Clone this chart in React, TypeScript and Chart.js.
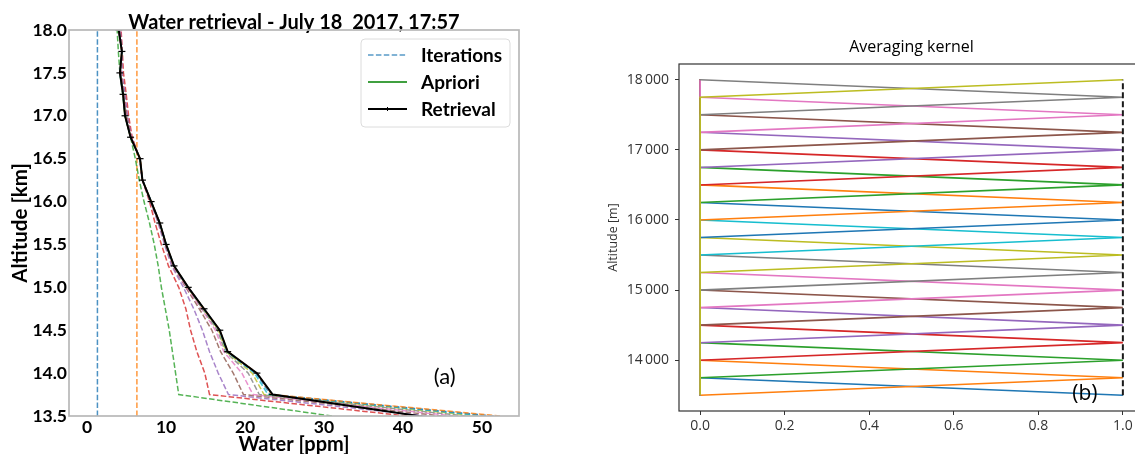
import React, { useEffect, useRef } from "react";
import { Chart, registerables } from "chart.js";

Chart.register(...registerables);

// ---------- Left panel data: water retrieval ----------
const altitudesKm = [13.5, 13.75, 14.0, 14.25, 14.5, 14.75, 15.0, 15.25, 15.5, 15.75, 16.0, 16.25, 16.5, 16.75, 17.0, 17.25, 17.5, 17.75, 18.0];

const iteration0 = [1.3, 1.3, 1.3, 1.3, 1.3, 1.3, 1.3, 1.3, 1.3, 1.3, 1.3, 1.3, 1.3, 1.3, 1.3, 1.3, 1.3, 1.3, 1.3];
const iteration1 = [6.3, 6.3, 6.3, 6.3, 6.3, 6.3, 6.3, 6.3, 6.3, 6.3, 6.3, 6.3, 6.3, 6.3, 6.3, 6.3, 6.3, 6.3, 6.3];
const iteration2 = [31.0, 11.6, 11.2, 10.8, 10.4, 9.9, 9.4, 9.0, 8.5, 7.9, 7.2, 6.6, 6.1, 5.5, 4.8, 4.5, 4.15, 3.95, 3.8];
const iteration3 = [40.5, 15.5, 14.9, 13.9, 13.1, 12.5, 11.6, 10.3, 9.4, 8.6, 7.9, 7.0, 6.65, 5.7, 5.25, 4.95, 4.6, 4.45, 4.3];
const iteration4 = [43.0, 17.9, 16.6, 15.5, 14.6, 13.5, 12.2, 10.7, 9.8, 9.0, 8.0, 7.0, 6.65, 5.6, 5.1, 4.8, 4.4, 4.45, 4.2];
const iteration5 = [45.0, 19.8, 18.5, 16.9, 15.8, 14.2, 12.5, 10.85, 9.9, 9.1, 8.05, 7.0, 6.7, 5.55, 5.0, 4.7, 4.3, 4.4, 4.1];
const iteration6 = [46.5, 21.0, 19.6, 17.3, 16.25, 14.5, 12.6, 10.9, 9.95, 9.15, 8.1, 7.0, 6.7, 5.55, 4.9, 4.65, 4.2, 4.4, 4.05];
const iteration7 = [48.0, 21.8, 20.4, 17.5, 16.5, 14.6, 12.7, 10.95, 10.0, 9.2, 8.1, 7.0, 6.7, 5.5, 4.85, 4.6, 4.2, 4.4, 4.0];
const iteration8 = [49.5, 22.4, 20.9, 17.6, 16.65, 14.7, 12.75, 11.0, 10.0, 9.2, 8.1, 7.0, 6.7, 5.5, 4.8, 4.6, 4.15, 4.4, 4.0];
const iteration9 = [50.5, 22.9, 21.2, 17.7, 16.75, 14.75, 12.8, 11.0, 10.0, 9.2, 8.1, 7.0, 6.7, 5.5, 4.8, 4.55, 4.15, 4.4, 4.0];
const iteration10 = [51.5, 23.2, 21.4, 17.75, 16.8, 14.8, 12.8, 11.0, 10.0, 9.2, 8.1, 7.0, 6.7, 5.5, 4.8, 4.55, 4.15, 4.4, 4.0];
const iteration11 = [52.3, 23.4, 21.5, 17.8, 16.8, 14.8, 12.8, 11.0, 10.0, 9.2, 8.1, 7.0, 6.7, 5.5, 4.8, 4.55, 4.15, 4.4, 4.0];
const iterations = [iteration0, iteration1, iteration2, iteration3, iteration4, iteration5, iteration6, iteration7, iteration8, iteration9, iteration10, iteration11];

const retrieval = [42.0, 23.5, 21.5, 17.8, 16.8, 14.8, 12.8, 11.0, 10.0, 9.2, 8.1, 7.0, 6.7, 5.5, 4.8, 4.55, 4.15, 4.4, 4.0];

const waterXTicks = [0, 10, 20, 30, 40, 50];
const waterYTicks = [13.5, 14.0, 14.5, 15.0, 15.5, 16.0, 16.5, 17.0, 17.5, 18.0];
const waterXMin = -2.3;
const waterXMax = 54.7;

const legendLabels = ["Iterations", "Apriori", "Retrieval"];

// ---------- Right panel data: averaging kernel ----------
const altitudesM = [13500, 13750, 14000, 14250, 14500, 14750, 15000, 15250, 15500, 15750, 16000, 16250, 16500, 16750, 17000, 17250, 17500, 17750, 18000];
const kernelDiagonal = [1, 1, 1, 1, 1, 1, 1, 1, 1, 1, 1, 1, 1, 1, 1, 1, 1, 1, 1];
const kernelOffDiagonal = 0;
const kernelRowSum = [1, 1, 1, 1, 1, 1, 1, 1, 1, 1, 1, 1, 1, 1, 1, 1, 1, 1, 1];
const kernelXTicks = [0, 0.2, 0.4, 0.6, 0.8, 1.0];
const kernelXTickLabels = ["0.0", "0.2", "0.4", "0.6", "0.8", "1.0"];
const kernelYTicks = [14000, 15000, 16000, 17000, 18000];
const kernelYTickLabels = ["14\u2009000", "15\u2009000", "16\u2009000", "17\u2009000", "18\u2009000"];

const tab10 = ["#1f77b4", "#ff7f0e", "#2ca02c", "#d62728", "#9467bd", "#8c564b", "#e377c2", "#7f7f7f", "#bcbd22", "#17becf"];

function withAlpha(hex: string, a: number) {
  const r = parseInt(hex.slice(1, 3), 16);
  const g = parseInt(hex.slice(3, 5), 16);
  const b = parseInt(hex.slice(5, 7), 16);
  return `rgba(${r},${g},${b},${a})`;
}

const framePlugin = (id: string, color: string, width: number) => ({
  id,
  afterDatasetsDraw(chart: any) {
    const { ctx, chartArea } = chart;
    ctx.save();
    ctx.strokeStyle = color;
    ctx.lineWidth = width;
    ctx.strokeRect(chartArea.left, chartArea.top, chartArea.right - chartArea.left, chartArea.bottom - chartArea.top);
    ctx.restore();
  },
});

const panelLabelPlugin = (id: string, text: string, fx: number, fy: number, font: string) => ({
  id,
  afterDraw(chart: any) {
    const { ctx, chartArea } = chart;
    ctx.save();
    ctx.font = font;
    ctx.fillStyle = "#000";
    ctx.textAlign = "center";
    ctx.textBaseline = "middle";
    const x = chartArea.left + fx * (chartArea.right - chartArea.left);
    const y = chartArea.bottom - fy * (chartArea.bottom - chartArea.top);
    ctx.fillText(text, x, y);
    ctx.restore();
  },
});

const waterLegendPlugin = {
  id: "waterLegend",
  afterDraw(chart: any) {
    const { ctx } = chart;
    ctx.save();
    const bx = 361, by = 39, bw = 149, bh = 88, r = 4;
    ctx.beginPath();
    ctx.moveTo(bx + r, by);
    ctx.arcTo(bx + bw, by, bx + bw, by + bh, r);
    ctx.arcTo(bx + bw, by + bh, bx, by + bh, r);
    ctx.arcTo(bx, by + bh, bx, by, r);
    ctx.arcTo(bx, by, bx + bw, by, r);
    ctx.closePath();
    ctx.fillStyle = "rgba(255,255,255,0.85)";
    ctx.fill();
    ctx.strokeStyle = "#dcdcdc";
    ctx.lineWidth = 1;
    ctx.stroke();
    const rows = [55, 82, 109];
    const x0 = 368, x1 = 407;
    ctx.strokeStyle = withAlpha(tab10[0], 0.75);
    ctx.lineWidth = 1.5;
    ctx.setLineDash([5.5, 2.4]);
    ctx.beginPath(); ctx.moveTo(x0, rows[0]); ctx.lineTo(x1, rows[0]); ctx.stroke();
    ctx.setLineDash([]);
    ctx.strokeStyle = "#008000";
    ctx.lineWidth = 1.5;
    ctx.beginPath(); ctx.moveTo(x0, rows[1]); ctx.lineTo(x1, rows[1]); ctx.stroke();
    ctx.strokeStyle = "#000";
    ctx.lineWidth = 1.8;
    ctx.beginPath(); ctx.moveTo(x0, rows[2]); ctx.lineTo(x1, rows[2]); ctx.stroke();
    ctx.lineWidth = 1;
    ctx.beginPath(); ctx.moveTo((x0 + x1) / 2, rows[2] - 2); ctx.lineTo((x0 + x1) / 2, rows[2] + 2); ctx.stroke();
    ctx.fillStyle = "#000";
    ctx.font = "bold 19px Lato";
    ctx.textAlign = "left";
    ctx.textBaseline = "middle";
    legendLabels.forEach((t, i) => ctx.fillText(t, 421, rows[i] + 1));
    ctx.restore();
  },
};

export default function App() {
  const leftRef = useRef<HTMLCanvasElement>(null);
  const rightRef = useRef<HTMLCanvasElement>(null);

  useEffect(() => {
    const leftDatasets: any[] = iterations.map((vals, i) => ({
      label: `Iteration ${i}`,
      data: vals.map((v, j) => ({ x: v, y: altitudesKm[j] })),
      showLine: true,
      borderColor: withAlpha(tab10[i % 10], 0.8),
      borderWidth: 1.5,
      borderDash: [5.5, 2.4],
      pointRadius: 0,
      pointHoverRadius: 0,
      order: 50 - i,
      clip: 0,
    }));
    leftDatasets.push({
      label: "Retrieval",
      data: retrieval.map((v, j) => ({ x: v, y: altitudesKm[j] })),
      showLine: true,
      borderColor: "#000",
      borderWidth: 2,
      pointStyle: "line",
      pointRadius: 3.5,
      pointHoverRadius: 3.5,
      pointBorderWidth: 1.2,
      pointBorderColor: "#000",
      pointBackgroundColor: "#000",
      order: 0,
      clip: 0,
    });

    const left = new Chart(leftRef.current as HTMLCanvasElement, {
      type: "scatter",
      data: { datasets: leftDatasets },
      options: {
        animation: false,
        responsive: false,
        events: [],
        layout: { padding: { left: 0, right: 21, top: 0, bottom: 0 } },
        plugins: {
          legend: { display: false },
          tooltip: { enabled: false },
          title: {
            display: true,
            text: "Water retrieval - July 18  2017, 17:57",
            color: "#000",
            fullSize: false,
            font: { family: "Lato", weight: "bold", size: 20, lineHeight: 1 },
            padding: { top: 13, bottom: -3 },
          },
        },
        scales: {
          x: {
            type: "linear",
            min: waterXMin,
            max: waterXMax,
            afterFit: (s: any) => { s.height = 38; },
            afterBuildTicks: (s: any) => { s.ticks = waterXTicks.map((v) => ({ value: v })); },
            grid: { display: false, drawTicks: false },
            border: { display: false },
            ticks: { color: "#000", padding: 1, maxRotation: 0, font: { family: "Lato", weight: "bold", size: 17.5 }, callback: (v: any) => String(v) },
            title: { display: true, text: "Water [ppm]", color: "#000", font: { family: "Lato", weight: "bold", size: 20, lineHeight: 1 }, padding: { top: 0, bottom: -1 } },
          },
          y: {
            type: "linear",
            min: 13.5,
            max: 18.0,
            afterFit: (s: any) => { s.width = 69; },
            afterBuildTicks: (s: any) => { s.ticks = waterYTicks.map((v) => ({ value: v })); },
            grid: { display: false, drawTicks: false },
            border: { display: false },
            ticks: { color: "#000", padding: 2, font: { family: "Lato", weight: "bold", size: 17.5 }, callback: (v: any) => Number(v).toFixed(1) },
            title: { display: true, text: "Altitude [km]", color: "#000", font: { family: "Lato", weight: "bold", size: 20.5, lineHeight: 1 }, padding: { top: 10, bottom: 0 } },
          },
        },
      } as any,
      plugins: [framePlugin("leftFrame", "#b8b8b8", 1.7), waterLegendPlugin, panelLabelPlugin("labelA", "(a)", 0.835, 0.1, "22px Lato")],
    });

    const rightDatasets: any[] = kernelDiagonal.map((d, i) => ({
      label: `Kernel ${altitudesM[i]}`,
      data: altitudesM.map((alt, j) => ({ x: i === j ? d : kernelOffDiagonal, y: alt })),
      showLine: true,
      borderColor: tab10[i % 10],
      borderWidth: 1.6,
      pointRadius: 0,
      pointHoverRadius: 0,
      order: 50 - i,
      clip: 0,
    }));
    rightDatasets.push({
      label: "Sum",
      data: kernelRowSum.map((v, j) => ({ x: v, y: altitudesM[j] })),
      showLine: true,
      borderColor: "#1a1a1a",
      borderWidth: 2,
      borderDash: [6, 3],
      pointRadius: 0,
      pointHoverRadius: 0,
      order: 0,
      clip: 0,
    });

    const right = new Chart(rightRef.current as HTMLCanvasElement, {
      type: "scatter",
      data: { datasets: rightDatasets },
      options: {
        animation: false,
        responsive: false,
        events: [],
        layout: { padding: { left: 0, right: 16, top: 0, bottom: 0 } },
        plugins: {
          legend: { display: false },
          tooltip: { enabled: false },
          title: {
            display: true,
            text: "Averaging kernel",
            color: "#000",
            fullSize: false,
            font: { family: "Open Sans", weight: "normal", size: 16, lineHeight: 1.2 },
            padding: { top: 37.4, bottom: 7.4 },
          },
        },
        scales: {
          x: {
            type: "linear",
            min: -0.05,
            max: 1.05,
            afterFit: (s: any) => { s.height = 43; },
            afterBuildTicks: (s: any) => { s.ticks = kernelXTicks.map((v) => ({ value: v })); },
            grid: { display: true, drawOnChartArea: false, drawTicks: true, tickLength: 4, color: "#333", lineWidth: 1 },
            border: { display: false },
            ticks: { color: "#333", padding: 3, maxRotation: 0, font: { family: "Open Sans", size: 14 }, callback: (_v: any, i: number) => kernelXTickLabels[i] },
          },
          y: {
            type: "linear",
            min: 13275,
            max: 18225,
            afterFit: (s: any) => { s.width = 89; },
            afterBuildTicks: (s: any) => { s.ticks = kernelYTicks.map((v) => ({ value: v })); },
            grid: { display: true, drawOnChartArea: false, drawTicks: true, tickLength: 4, color: "#333", lineWidth: 1 },
            border: { display: false },
            ticks: { color: "#333", padding: 6, font: { family: "Open Sans", size: 14 }, callback: (_v: any, i: number) => kernelYTickLabels[i] },
            title: { display: true, text: "Altitude [m]", color: "#333", font: { family: "Open Sans", size: 12.5, lineHeight: 1.2 }, padding: { top: 15.5, bottom: 0 } },
          },
        },
      } as any,
      plugins: [framePlugin("rightFrame", "#333", 1.2), panelLabelPlugin("labelB", "(b)", 0.873, 0.05, "21px Open Sans")],
    });

    return () => {
      left.destroy();
      right.destroy();
    };
  }, []);

  return (
    <div style={{ position: "fixed", left: 0, top: 0, width: 1135, height: 454, overflow: "hidden", background: "#fff" }}>
      <div style={{ position: "absolute", left: 0, top: 0, width: 540, height: 454 }}>
        <canvas ref={leftRef} width={540} height={454} />
      </div>
      <div style={{ position: "absolute", left: 590, top: 0, width: 570, height: 454 }}>
        <canvas ref={rightRef} width={570} height={454} />
      </div>
    </div>
  );
}
